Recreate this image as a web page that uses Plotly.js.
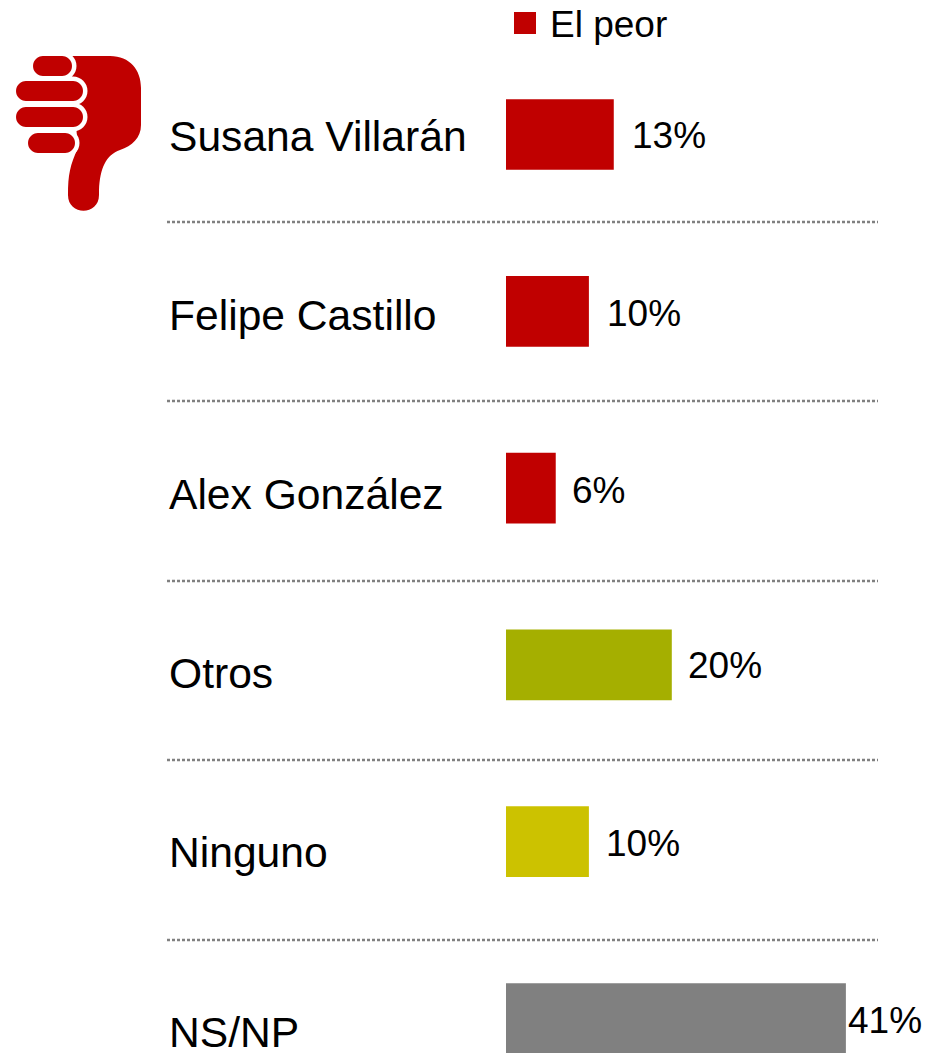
<!DOCTYPE html>
<html><head><meta charset="utf-8">
<script src="https://cdn.plot.ly/plotly-3.0.1.min.js"></script>
<style>html,body{margin:0;padding:0;background:#fff;overflow:hidden}#c{width:926px;height:1053px}</style>
</head><body><div id="c"></div>
<script>
const categories = ['Susana Villarán','Felipe Castillo','Alex González','Otros','Ninguno','NS/NP'];
const values = [13,10,6,20,10,41];
const valueLabels = ['13%','10%','6%','20%','10%','41%'];
const barColors = ['#C00000','#C00000','#C00000','#A5AF00','#CCC200','#808080'];
const legendName = 'El peor';
const W = 926, H = 1053;
const labelCenters = [136,315,494,673,852,1032];
const valueCenters = [135,313,490,665,843,1020];
const valueGaps = [17,17,15,15,16,1];
const separators = [222,401,581,760,940];
const FONT = 'Liberation Sans, Arial, sans-serif';
const pxPerUnit = 8.29, x0 = 506;
const rowPitch = 176.8, row0 = 134.5;

const px = s => s.replace(/(-?[\d.]+) (-?[\d.]+)/g, (m,a,b) => (a/W).toFixed(5)+' '+(1-b/H).toFixed(5));
const red = '#C00000';
const pshape = (path, fill) => ({type:'path', xref:'paper', yref:'paper', path:px(path),
  fillcolor:fill, line:{color:fill, width:0}, layer:'above'});
// A rounded finger: a bar with fully round ends
const pill = (x0,y0,x1,y1,fill) => { const r=(y1-y0)/2, k=r*0.5523, m=(y0+y1)/2;
  return pshape(`M ${x0+r} ${y0} L ${x1-r} ${y0} C ${x1-r+k} ${y0} ${x1} ${m-k} ${x1} ${m} C ${x1} ${m+k} ${x1-r+k} ${y1} ${x1-r} ${y1} L ${x0+r} ${y1} C ${x0+r-k} ${y1} ${x0} ${m+k} ${x0} ${m} C ${x0} ${m-k} ${x0+r-k} ${y0} ${x0+r} ${y0} Z`, fill); };
const fingers = [[33,56,72,76],[16,81,83,101],[16,107,83,127],[28,133,75,153]];
const gap = 4.5;
const thumb = [
  pshape('M 70 56 L 110 56 C 130 56 141 70 141 88 L 141 125 C 141 138 132 146 120 150 C 106 155 100 168 99 190 L 99 195 C 99 216 68 216 68 195 C 68 175 70 165 78 148 Z', red),
  ...fingers.map(f => pill(f[0]-gap,f[1]-gap,f[2]+gap,f[3]+gap,'#fff')),
  ...fingers.map(f => pill(f[0],f[1],f[2],f[3],red))
];
const lines = separators.map(y => ({type:'line', xref:'paper', yref:'paper', x0:167/W, x1:878/W, y0:1-y/H, y1:1-y/H,
  line:{color:'#808080', width:2.5, dash:'3px,2px'}, layer:'below'}));
const legendSwatch = {type:'rect', xref:'paper', yref:'paper', x0:514/W, x1:536/W, y0:1-34/H, y1:1-12/H, fillcolor:red, line:{width:0}};

const annotations = [];
categories.forEach((c,i) => annotations.push({xref:'paper', yref:'paper', x:168/W, y:1-labelCenters[i]/H, xanchor:'left', yanchor:'middle',
  text:c, showarrow:false, borderpad:0, font:{family:FONT, size:42.6, color:'#000'}}));
values.forEach((v,i) => annotations.push({xref:'x', yref:'paper', x:v, y:1-valueCenters[i]/H, xanchor:'left', yanchor:'middle', xshift:valueGaps[i],
  text:valueLabels[i], showarrow:false, borderpad:0, font:{family:FONT, size:37, color:'#000'}}));
annotations.push({xref:'paper', yref:'paper', x:549/W, y:1-25/H, xanchor:'left', yanchor:'middle', text:legendName, showarrow:false, borderpad:0,
  font:{family:FONT, size:37, color:'#000'}});

Plotly.newPlot('c', [{type:'bar', orientation:'h', name:legendName, x:values, y:categories,
  marker:{color:barColors, line:{width:0}}, hoverinfo:'skip'}], {
  width:W, height:H, margin:{l:0,r:0,t:0,b:0}, paper_bgcolor:'#fff', plot_bgcolor:'#fff', showlegend:false, bargap:0.6,
  xaxis:{range:[-x0/pxPerUnit,(W-x0)/pxPerUnit], visible:false, fixedrange:true},
  yaxis:{type:'category', categoryorder:'array', categoryarray:categories, range:[(H-row0)/rowPitch, -row0/rowPitch], visible:false, fixedrange:true},
  shapes:[...lines, legendSwatch, ...thumb], annotations
}, {displayModeBar:false, staticPlot:true});
</script></body></html>
